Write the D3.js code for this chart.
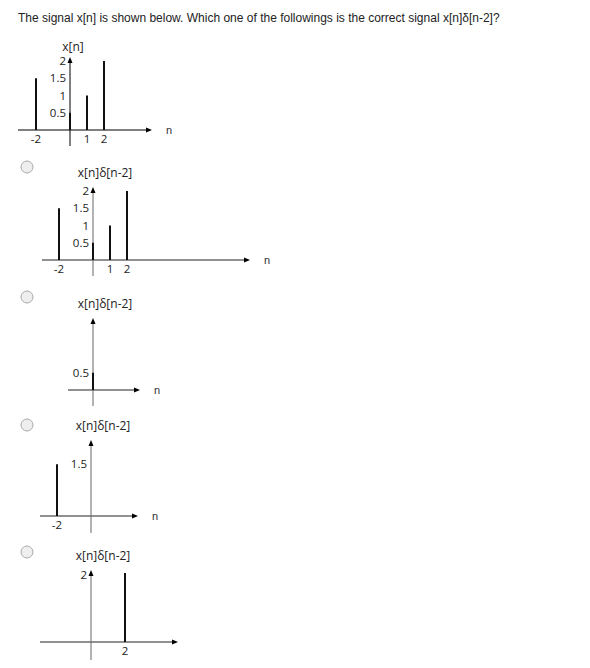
<!DOCTYPE html>
<html><head><meta charset="utf-8">
<script src="https://cdn.jsdelivr.net/npm/d3@7"></script>
<style>body{margin:0;background:#fff;font-family:"Liberation Sans",Arial,sans-serif}</style>
</head><body>
<svg id="c" width="590" height="668"></svg>
<script>
const question = "The signal x[n] is shown below. Which one of the followings is the correct signal x[n]\u03b4[n-2]?";
// [n, value] stems for each plot
const xnN = [-2, 0, 1, 2], xnV = [1.5, 0.5, 1, 2];
const optA_N = [-2, 0, 1, 2], optA_V = [1.5, 0.5, 1, 2];
const optB_N = [0], optB_V = [0.5];
const optC_N = [-2], optC_V = [1.5];
const optD_N = [2], optD_V = [2];
const yTickSets = [["2","1.5","1","0.5"],["2","1.5","1","0.5"],["0.5"],["1.5"],["2"]];
const xTickSets = [["-2","1","2"],["-2","1","2"],[],["-2"],["2"]];

const svg = d3.select("#c");
svg.append("text").attr("x",18).attr("y",22).attr("font-size",12).attr("fill","#222").text(question);

const plots = [
 {N:xnN,V:xnV,title:"x[n]",ox:70,oy:130,x0:18,x1:152,yTop:57,yBot:146,axis:"#000",radio:null,nLab:true},
 {N:optA_N,V:optA_V,title:"x[n]\u03b4[n-2]",ox:93,oy:260,x0:42,x1:250,yTop:187,yBot:276,axis:"#666",radio:167,nLab:true},
 {N:optB_N,V:optB_V,title:"x[n]\u03b4[n-2]",ox:93,oy:390,x0:68,x1:140,yTop:318,yBot:406,axis:"#666",radio:297,nLab:true},
 {N:optC_N,V:optC_V,title:"x[n]\u03b4[n-2]",ox:91,oy:516,x0:40,x1:138,yTop:440,yBot:533,axis:"#666",radio:425,nLab:true},
 {N:optD_N,V:optD_V,title:"x[n]\u03b4[n-2]",ox:91,oy:642,x0:40,x1:178,yTop:570,yBot:660,axis:"#666",radio:552,nLab:false}
];

plots.forEach((p,i)=>{
  const g = svg.append("g");
  const unitX = 17, unitY = 34.5;
  const x = d3.scaleLinear().domain([0,1]).range([p.ox,p.ox+unitX]);
  const y = d3.scaleLinear().domain([0,1]).range([p.oy,p.oy-unitY]);
  if(p.radio){
    g.append("circle").attr("cx",27).attr("cy",p.radio).attr("r",6)
     .attr("fill","#eee").attr("stroke","#aaa");
  }
  g.append("line").attr("x1",p.x0).attr("x2",p.x1-4).attr("y1",p.oy).attr("y2",p.oy).attr("stroke",i==0?"#000":"#222").attr("stroke-width",1);
  g.append("path").attr("d",`M${p.x1},${p.oy}l-6,-2.5v5z`).attr("fill","#000");
  g.append("line").attr("x1",p.ox).attr("x2",p.ox).attr("y1",p.yTop+4).attr("y2",p.yBot).attr("stroke",p.axis);
  g.append("path").attr("d",`M${p.ox},${p.yTop}l-2.5,6h5z`).attr("fill","#000");
  if(p.nLab) g.append("text").attr("x",p.x1+14).attr("y",p.oy+4).attr("font-size",11).attr("fill","#333").text("n");
  g.append("text").attr("x",p.ox+(i==0?3:12)).attr("y",p.yTop-(i==0?6:10)).attr("text-anchor","middle")
   .attr("font-family","Open Sans, DejaVu Sans, sans-serif").attr("font-size",12).attr("fill","#222").text(p.title);
  p.N.forEach((n,k)=>{
    g.append("line").attr("x1",x(n)).attr("x2",x(n)).attr("y1",y(0)).attr("y2",y(p.V[k]))
     .attr("stroke","#111").attr("stroke-width",2);
  });
  yTickSets[i].forEach(t=>{
    const v=+t;
    g.append("text").attr("x",p.ox-4).attr("y",y(v)+(v==2&&i!=0&&i!=1?6:4)).attr("text-anchor","end")
     .attr("font-family","Open Sans, DejaVu Sans, sans-serif").attr("font-size",11.5).attr("fill","#222").text(t);
  });
  xTickSets[i].forEach(t=>{
    const v=+t;
    g.append("text").attr("x",x(v)).attr("y",p.oy+13).attr("text-anchor","middle")
     .attr("font-family","Open Sans, DejaVu Sans, sans-serif").attr("font-size",11.5).attr("fill","#222").text(t);
  });
});
</script>
</body></html>
